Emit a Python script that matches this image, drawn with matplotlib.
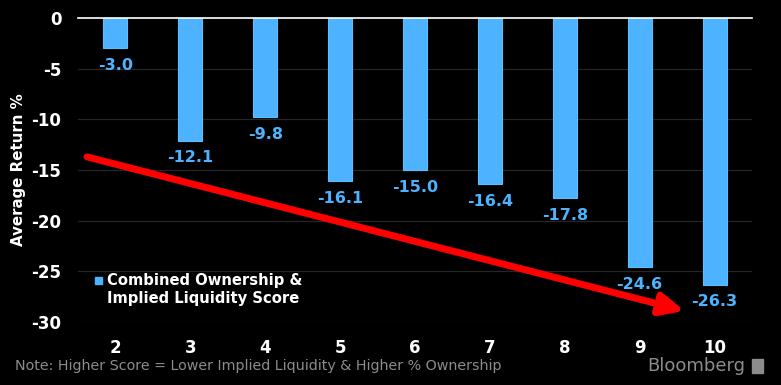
#!/usr/bin/env python3
"""Average return by combined ownership & implied liquidity score (Bloomberg style)."""

import matplotlib
matplotlib.use("Agg")
import matplotlib.pyplot as plt
from matplotlib.patches import Rectangle

scores = [2, 3, 4, 5, 6, 7, 8, 9, 10]
avg_return = [-3.0, -12.1, -9.8, -16.1, -15.0, -16.4, -17.8, -24.6, -26.3]
y_ticks = [0, -5, -10, -15, -20, -25, -30]
trend_start = (1.62, -13.7)
trend_end = (9.6, -28.9)

BAR_BLUE = "#4DB2FF"
LABEL_BLUE = "#4DB3FF"
BG = "black"

fig = plt.figure(figsize=(7.81, 3.85), dpi=100, facecolor=BG)
ax = fig.add_axes([78 / 781, 1 - 322 / 385, (752 - 78) / 781, (322 - 18) / 385])
ax.set_facecolor(BG)

ax.bar(scores, avg_return, width=0.32, color=BAR_BLUE, edgecolor="#5CC0FF", linewidth=0.8, zorder=3)
for x, v in zip(scores, avg_return):
    ax.annotate(f"{v:.1f}", xy=(x, v), xytext=(0, -7), textcoords="offset points",
                ha="center", va="top", fontsize=11.5, fontweight="bold", color=LABEL_BLUE)

ax.set_xlim(1.5, 10.5)
ax.set_ylim(-30, 0)
ax.set_yticks(y_ticks)
ax.set_yticklabels([str(t) for t in y_ticks])
ax.set_xticks(scores)
ax.grid(axis="y", color="#262626", linewidth=0.9, zorder=0)
ax.axhline(0, color="white", linewidth=1.2, zorder=4, clip_on=False)
for s in ax.spines.values():
    s.set_visible(False)
ax.tick_params(axis="both", length=0, colors="white", labelsize=12)
ax.tick_params(axis="y", pad=12)
ax.tick_params(axis="x", pad=12)
for lab in ax.get_xticklabels() + ax.get_yticklabels():
    lab.set_fontweight("bold")
ax.set_ylabel("Average Return %", color="white", fontsize=10.8, fontweight="bold")
ax.yaxis.set_label_coords(-(78 - 26) / 674, 1 - (170 - 18) / 304)

# trend arrow
ax.annotate("", xy=trend_end, xytext=trend_start,
            arrowprops=dict(arrowstyle="-|>,head_length=1.4,head_width=0.65", color="#FF0000",
                            lw=5, shrinkA=0, shrinkB=0), zorder=5)

# legend
fig.patches.append(Rectangle((95 / 781, 1 - 284 / 385), 7 / 781, 7 / 385,
                             transform=fig.transFigure, color=BAR_BLUE))
fig.text(107 / 781, 1 - 289 / 385, "Combined Ownership &\nImplied Liquidity Score",
         color="white", fontsize=10.6, fontweight="bold", va="center", ha="left", linespacing=1.25)

fig.text(15 / 781, 1 - 366 / 385,
         "Note: Higher Score = Lower Implied Liquidity & Higher % Ownership",
         color="#8C8C8C", fontsize=10.3, va="center", ha="left")
fig.text(745 / 781, 1 - 366 / 385, "Bloomberg", color="#8C8C8C", fontsize=13,
         va="center", ha="right")
fig.patches.append(Rectangle((752 / 781, 1 - 373 / 385), 11 / 781, 14 / 385,
                             transform=fig.transFigure, color="#8C8C8C"))

fig.savefig("out.png", dpi=100, facecolor=BG)
